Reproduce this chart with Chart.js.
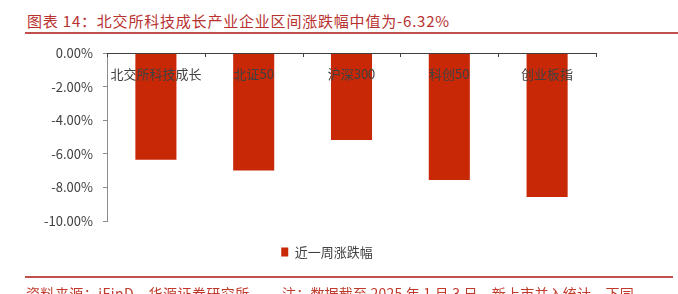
<!DOCTYPE html>
<html>
<head>
    <title>北交所科技成长 区间涨跌幅</title>
    <script src="https://cdn.jsdelivr.net/npm/chart.js"></script>
    <style>
        html, body { margin: 0; padding: 0; background: #fff; }
        body { width: 678px; height: 294px; position: relative; overflow: hidden; font-family: "Noto Sans CJK SC", sans-serif; }
        #chartBox { position: absolute; left: 0; top: 0; width: 678px; height: 294px; }
        .title { position: absolute; left: 27px; top: 10px; font-size: 15px; line-height: 22px; color: #b8312f; letter-spacing: 0.8px; white-space: nowrap; }
        .rule { position: absolute; height: 2px; background: #c0504d; }
        .foot { position: absolute; top: 283px; font-size: 14px; line-height: 20px; color: #c0392b; white-space: nowrap; }
    </style>
</head>
<body>
    <div class="title">图表 14：北交所科技成长产业企业区间涨跌幅中值为-6.32%</div>
    <div class="rule" style="left:25px; top:32px; width:653px;"></div>
    <div id="chartBox"><canvas id="myChart" width="678" height="294"></canvas></div>
    <div class="rule" style="left:25px; top:276px; width:648px;"></div>
    <div class="foot" style="left:26px; letter-spacing:0.45px;">资料来源：iFinD，华源证券研究所</div>
    <div class="foot" style="left:282px; letter-spacing:0.2px;">注：数据截至 2025 年 1 月 3 日，新上市并入统计，下同</div>
    <script>
        const categories = ['北交所科技成长', '北证50', '沪深300', '科创50', '创业板指'];
        const weeklyChange = [-6.35, -7.00, -5.18, -7.56, -8.57];
        const seriesName = '近一周涨跌幅';
        const yTicks = [0, -2, -4, -6, -8, -10];

        const labelFont = { family: '"Noto Sans CJK SC", sans-serif', size: 13 };

        // x axis sits on the zero line with its labels hanging inside the plot
        const topAxis = {
            id: 'topAxis',
            afterLayout(chart) {
                // legend in the original is centred a bit left of the page
                chart.legend.left = 58;
            },
            afterDatasetsDraw(chart) {
                const ctx = chart.ctx;
                const x = chart.scales.x;
                const area = chart.chartArea;
                const step = x.width / categories.length;
                ctx.save();
                ctx.strokeStyle = '#404040';
                ctx.lineWidth = 1;
                ctx.beginPath();
                ctx.moveTo(area.left, area.top + 0.5);
                ctx.lineTo(area.right, area.top + 0.5);
                for (let i = 0; i <= categories.length; i++) {
                    const px = Math.round(x.left + i * step) + 0.5;
                    ctx.moveTo(px, area.top);
                    ctx.lineTo(px, area.top + 4);
                }
                ctx.stroke();
                ctx.fillStyle = '#404040';
                ctx.font = labelFont.size + 'px ' + labelFont.family;
                ctx.textAlign = 'center';
                ctx.textBaseline = 'middle';
                categories.forEach((c, i) => {
                    ctx.fillText(c, x.getPixelForValue(i), area.top + 21);
                });
                ctx.restore();
            }
        };

        const ctx = document.getElementById('myChart').getContext('2d');
        const myChart = new Chart(ctx, {
            type: 'bar',
            data: {
                labels: categories,
                datasets: [{
                    label: seriesName,
                    data: weeklyChange,
                    backgroundColor: '#c82806',
                    borderWidth: 0,
                    categoryPercentage: 1,
                    barPercentage: 0.42
                }]
            },
            options: {
                responsive: false,
                animation: false,
                layout: { padding: { left: 0, right: 82, top: 53, bottom: 25.5 } },
                plugins: {
                    tooltip: { enabled: false },
                    legend: {
                        position: 'bottom',
                        align: 'center',
                        labels: {
                            boxWidth: 7,
                            boxHeight: 9,
                            padding: 24.5,
                            color: '#404040',
                            font: labelFont
                        }
                    }
                },
                scales: {
                    x: { display: false },
                    y: {
                        min: -10,
                        max: 0,
                        afterFit(scale) { scale.width = 107; },
                        afterBuildTicks(scale) { scale.ticks = yTicks.map(v => ({ value: v })); },
                        border: { display: true, color: '#8c8c8c', width: 1 },
                        grid: { drawOnChartArea: false, drawTicks: true, tickLength: 4, color: '#8c8c8c' },
                        ticks: {
                            padding: 10,
                            color: '#404040',
                            font: labelFont,
                            callback: v => v.toFixed(2) + '%'
                        }
                    }
                }
            },
            plugins: [topAxis]
        });
    </script>
</body>
</html>
